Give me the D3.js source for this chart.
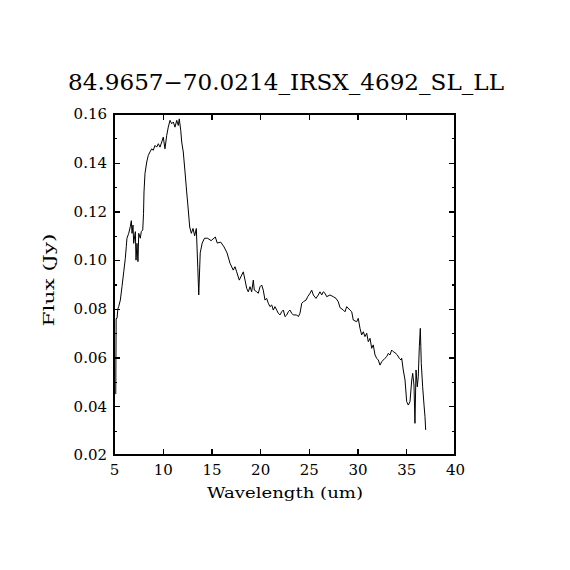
<!DOCTYPE html>
<html>
<head>
<meta charset="utf-8">
<script src="https://cdn.jsdelivr.net/npm/d3@7"></script>
<style>
  body { margin: 0; background: #fff; }
  svg text { font-family: "DejaVu Serif", "Liberation Serif", serif; fill: #000; }
</style>
</head>
<body>
<svg id="canvas" width="570" height="570"></svg>
<script>
// spectrum
const wavelength = [
  5.18, 5.22, 5.31, 5.40, 5.48, 5.65, 5.82, 6.00, 6.16, 6.26, 6.33, 6.51, 6.67, 6.78, 6.85, 6.95,
  7.02, 7.19, 7.26, 7.36, 7.46, 7.54, 7.70, 7.80, 7.95, 8.03, 8.08, 8.18, 8.36, 8.52, 8.69, 8.87,
  9.03, 9.21, 9.38, 9.55, 9.72, 9.90, 10.06, 10.23, 10.41, 10.57, 10.75, 10.92, 11.09, 11.26, 11.44, 11.60,
  11.70, 11.85, 11.95, 12.11, 12.29, 12.46, 12.60, 12.77, 12.94, 13.11, 13.28, 13.45, 13.60, 13.70, 13.85, 14.05,
  14.29, 14.60, 14.97, 15.40, 15.60, 15.95, 16.30, 16.60, 16.91, 17.24, 17.42, 17.59, 17.86, 18.11, 18.27, 18.45,
  18.62, 18.78, 18.96, 19.13, 19.30, 19.40, 19.65, 19.81, 19.99, 20.16, 20.32, 20.50, 20.67, 20.84, 21.01, 21.19,
  21.35, 21.52, 21.70, 21.86, 22.04, 22.21, 22.38, 22.55, 22.73, 22.89, 23.06, 23.24, 23.40, 23.75, 23.92, 24.09,
  24.27, 24.43, 24.71, 24.88, 25.12, 25.29, 25.46, 25.73, 25.97, 26.14, 26.32, 26.48, 26.66, 26.83, 27.17, 27.51,
  27.79, 28.02, 28.20, 28.54, 28.71, 28.88, 29.22, 29.40, 29.56, 29.91, 30.07, 30.25, 30.42, 30.59, 30.76, 30.94,
  31.10, 31.28, 31.45, 31.61, 31.79, 31.96, 32.13, 32.30, 32.48, 32.64, 32.81, 32.99, 33.15, 33.33, 33.50, 33.67,
  33.84, 34.08, 34.28, 34.46, 34.53, 34.69, 34.87, 35.04, 35.21, 35.38, 35.56, 35.66, 35.79, 35.89, 36.00, 36.13,
  36.23, 36.34, 36.44, 36.54, 36.68, 36.82, 36.92, 36.99
];
const flux = [
  0.0450, 0.0760, 0.0761, 0.0800, 0.0809, 0.0836, 0.0891, 0.0952, 0.1007, 0.1055, 0.1090, 0.1110, 0.1137, 0.1162, 0.1110, 0.1144,
  0.1069, 0.1117, 0.1000, 0.1069, 0.0994, 0.1110, 0.1090, 0.1117, 0.1124, 0.1192, 0.1280, 0.1355, 0.1403, 0.1430, 0.1444, 0.1457,
  0.1451, 0.1471, 0.1464, 0.1478, 0.1464, 0.1485, 0.1505, 0.1457, 0.1512, 0.1546, 0.1574, 0.1560, 0.1567, 0.1546, 0.1574, 0.1553,
  0.1580, 0.1533, 0.1485, 0.1444, 0.1362, 0.1280, 0.1218, 0.1136, 0.1110, 0.1130, 0.1100, 0.1130, 0.0970, 0.0857, 0.1030, 0.1070,
  0.1090, 0.1090, 0.1080, 0.1095, 0.1070, 0.1074, 0.1054, 0.1030, 0.0987, 0.0959, 0.0973, 0.0952, 0.0918, 0.0939, 0.0952, 0.0918,
  0.0884, 0.0870, 0.0891, 0.0870, 0.0918, 0.0877, 0.0870, 0.0864, 0.0891, 0.0898, 0.0877, 0.0836, 0.0843, 0.0823, 0.0809, 0.0816,
  0.0795, 0.0809, 0.0795, 0.0782, 0.0775, 0.0788, 0.0795, 0.0768, 0.0775, 0.0788, 0.0795, 0.0782, 0.0775, 0.0775, 0.0768, 0.0782,
  0.0823, 0.0829, 0.0836, 0.0850, 0.0864, 0.0877, 0.0857, 0.0843, 0.0857, 0.0870, 0.0857, 0.0870, 0.0864, 0.0850, 0.0857, 0.0850,
  0.0843, 0.0829, 0.0805, 0.0795, 0.0788, 0.0809, 0.0795, 0.0788, 0.0754, 0.0747, 0.0761, 0.0720, 0.0693, 0.0706, 0.0686, 0.0700,
  0.0665, 0.0679, 0.0638, 0.0652, 0.0611, 0.0597, 0.0590, 0.0569, 0.0583, 0.0590, 0.0597, 0.0604, 0.0617, 0.0611, 0.0631, 0.0624,
  0.0620, 0.0611, 0.0597, 0.0590, 0.0597, 0.0549, 0.0508, 0.0419, 0.0405, 0.0419, 0.0508, 0.0535, 0.0487, 0.0330, 0.0549, 0.0480,
  0.0521, 0.0645, 0.0720, 0.0576, 0.0480, 0.0405, 0.0357, 0.0303
];

const xTicks = [5, 10, 15, 20, 25, 30, 35, 40];
const yTicks = [0.02, 0.04, 0.06, 0.08, 0.10, 0.12, 0.14, 0.16];
const yMinorTicks = [0.03, 0.05, 0.07, 0.09, 0.11, 0.13, 0.15];

const titleText = "84.9657\u221270.0214_IRSX_4692_SL_LL";
const xLabel = "Wavelength (um)";
const yLabel = "Flux (Jy)";

const svg = d3.select('#canvas');
const plotLeft = 114, plotRight = 455, plotTop = 114, plotBottom = 455;

const x = d3.scaleLinear().domain([5, 40]).range([plotLeft, plotRight]);
const y = d3.scaleLinear().domain([0.02, 0.16]).range([plotBottom, plotTop]);

// frame
svg.append('rect')
    .attr('x', plotLeft).attr('y', plotTop)
    .attr('width', plotRight - plotLeft).attr('height', plotBottom - plotTop)
    .attr('fill', 'none').attr('stroke', '#000').attr('stroke-width', 1.3)
    .attr('shape-rendering', 'crispEdges');

function styleAxis(g) {
    g.select('.domain').remove();
    g.selectAll('line').attr('stroke', '#000').attr('stroke-width', 1.2).attr('shape-rendering', 'crispEdges');
    g.selectAll('text').style('font-size', '15px').attr('fill', '#000');
}

// inward ticks on all sides (negative tick size)
svg.append('g').attr('transform', `translate(0,${plotBottom})`)
    .call(d3.axisBottom(x).tickValues(xTicks).tickSize(-6).tickPadding(9).tickFormat(d3.format('d')))
    .call(styleAxis);
svg.append('g').attr('transform', `translate(0,${plotTop})`)
    .call(d3.axisTop(x).tickValues(xTicks).tickSize(-6).tickFormat(''))
    .call(styleAxis);
svg.append('g').attr('transform', `translate(${plotLeft},0)`)
    .call(d3.axisLeft(y).tickValues(yTicks).tickSize(-6).tickPadding(7).tickFormat(d3.format('.2f')))
    .call(styleAxis);
svg.append('g').attr('transform', `translate(${plotRight},0)`)
    .call(d3.axisRight(y).tickValues(yTicks).tickSize(-6).tickFormat(''))
    .call(styleAxis);
svg.append('g').attr('transform', `translate(${plotLeft},0)`)
    .call(d3.axisLeft(y).tickValues(yMinorTicks).tickSize(-3).tickFormat(''))
    .call(styleAxis);
svg.append('g').attr('transform', `translate(${plotRight},0)`)
    .call(d3.axisRight(y).tickValues(yMinorTicks).tickSize(-3).tickFormat(''))
    .call(styleAxis);

// spectrum
const points = wavelength.map((w, i) => [w, flux[i]]);
const line = d3.line().x(d => x(d[0])).y(d => y(d[1]));
svg.append('path')
    .datum(points)
    .attr('d', line)
    .attr('fill', 'none')
    .attr('stroke', '#000')
    .attr('stroke-width', 1)
    .attr('stroke-linejoin', 'miter');

// labels
svg.append('text')
    .attr('x', 286).attr('y', 90)
    .attr('text-anchor', 'middle')
    .attr('textLength', 436).attr('lengthAdjust', 'spacingAndGlyphs')
    .style('font-size', '22px')
    .text(titleText);

svg.append('text')
    .attr('x', 285).attr('y', 498)
    .attr('text-anchor', 'middle')
    .attr('textLength', 156).attr('lengthAdjust', 'spacingAndGlyphs')
    .style('font-size', '15px')
    .text(xLabel);

svg.append('text')
    .attr('transform', 'translate(54,280) rotate(-90)')
    .attr('text-anchor', 'middle')
    .attr('textLength', 93).attr('lengthAdjust', 'spacingAndGlyphs')
    .style('font-size', '15px')
    .text(yLabel);
</script>
</body>
</html>
